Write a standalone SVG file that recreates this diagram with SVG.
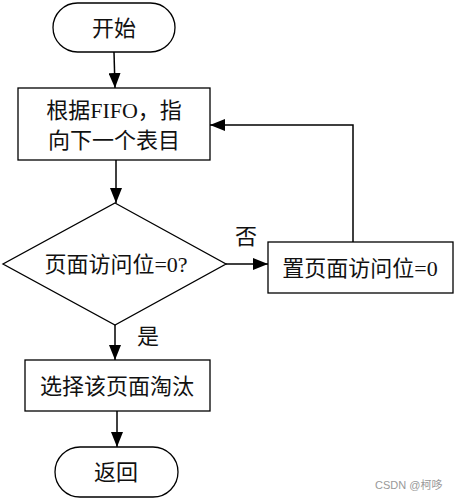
<svg xmlns="http://www.w3.org/2000/svg" width="458" height="500" viewBox="0 0 458 500">
<style>
.s{fill:#fff;stroke:#000;stroke-width:1.3}
.t{font-family:"Liberation Serif","Noto Sans CJK SC",serif;font-size:22px;fill:#111;text-anchor:middle;dominant-baseline:central}
.c{fill:none;stroke:#000;stroke-width:1.5}
.w{font-family:"Liberation Sans","Noto Sans CJK SC",sans-serif;font-size:11px;fill:#999}
</style>
<defs>
<marker id="a" viewBox="0 0 15 12" refX="15" refY="6" markerWidth="15" markerHeight="12" markerUnits="userSpaceOnUse" orient="auto">
<path d="M0,0L15,6L0,12z" fill="#000"/>
</marker>
</defs>
<rect width="458" height="500" fill="#fff"/>
<g id="connectors">
<line class="c" x1="114" y1="52" x2="115" y2="88" marker-end="url(#a)"/>
<line class="c" x1="116" y1="160" x2="116" y2="203" marker-end="url(#a)"/>
<line class="c" x1="226" y1="264" x2="268" y2="264" marker-end="url(#a)"/>
<polyline class="c" points="353,242 353,125 210,125" marker-end="url(#a)"/>
<line class="c" x1="115" y1="325" x2="115" y2="360" marker-end="url(#a)"/>
<line class="c" x1="117" y1="411" x2="117" y2="447" stroke-width="2.2" marker-end="url(#a)"/>
<text class="t" x="246" y="236">否</text>
<text class="t" x="148" y="336">是</text>
</g>
<g id="start">
<rect class="s" x="53" y="3" width="122" height="49" rx="24.5"/>
<text class="t" x="114" y="28">开始</text>
</g>
<g id="fifo">
<rect class="s" x="18" y="88" width="192" height="72"/>
<text class="t" x="114" y="110">根据FIFO，指</text>
<text class="t" x="114" y="140">向下一个表目</text>
</g>
<g id="decision">
<polygon class="s" points="115,203 226,264 115,325 3,264"/>
<text class="t" x="116" y="264">页面访问位=0?</text>
</g>
<g id="reset">
<rect class="s" x="268" y="242" width="185" height="51"/>
<text class="t" x="360" y="268">置页面访问位=0</text>
</g>
<g id="evict">
<rect class="s" x="25" y="360" width="185" height="51"/>
<text class="t" x="117" y="386">选择该页面淘汰</text>
</g>
<g id="end">
<rect class="s" x="55" y="447" width="123" height="50" rx="25"/>
<text class="t" x="116" y="472">返回</text>
</g>
<text class="w" x="375" y="489">CSDN @柯哆</text>
</svg>
